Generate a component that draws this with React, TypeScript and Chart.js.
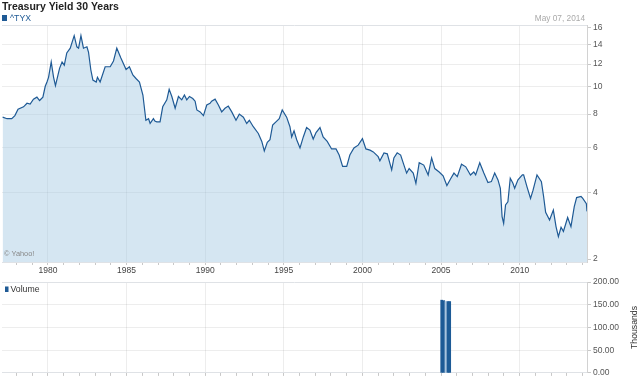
import React, { useEffect, useRef } from 'react';
import { Chart, LinearScale, registerables } from 'chart.js';

Chart.register(...registerables);

// ---------- data ----------
const TITLE = 'Treasury Yield 30 Years';
const SERIES = '^TYX';
const DATE_LABEL = 'May 07, 2014';
const COPYRIGHT = '© Yahoo!';
const VOLUME_LABEL = 'Volume';
const VOLUME_UNIT = 'Thousands';

const years = [
  1977.12, 1977.4, 1977.7, 1977.9, 1978.1, 1978.45, 1978.67, 1978.87, 1979.08, 1979.3,
  1979.47, 1979.68, 1979.83, 1979.94, 1980.04, 1980.21, 1980.36, 1980.48, 1980.74, 1980.9,
  1981.04, 1981.2, 1981.42, 1981.67, 1981.84, 1981.95, 1982.1, 1982.26, 1982.48, 1982.58,
  1982.73, 1982.86, 1983.07, 1983.15, 1983.32, 1983.64, 1983.96, 1984.17, 1984.38, 1984.64,
  1984.97, 1985.18, 1985.4, 1985.6, 1985.82, 1986.04, 1986.23, 1986.4, 1986.5, 1986.71,
  1986.8, 1986.92, 1987.13, 1987.3, 1987.56, 1987.71, 1987.88, 1988.09, 1988.3, 1988.51,
  1988.68, 1988.83, 1989.0, 1989.21, 1989.36, 1989.47, 1989.68, 1989.89, 1990.1, 1990.31,
  1990.41, 1990.63, 1990.84, 1991.05, 1991.26, 1991.47, 1991.69, 1991.96, 1992.17, 1992.43,
  1992.64, 1992.81, 1993.06, 1993.38, 1993.6, 1993.76, 1993.95, 1994.12, 1994.29, 1994.5,
  1994.71, 1994.9, 1995.18, 1995.39, 1995.5, 1995.65, 1995.82, 1996.03, 1996.24, 1996.45,
  1996.66, 1996.87, 1997.05, 1997.3, 1997.5, 1997.76, 1998.04, 1998.32, 1998.52, 1998.74,
  1999.0, 1999.2, 1999.46, 1999.73, 2000.0, 2000.22, 2000.48, 2000.69, 2001.0, 2001.11,
  2001.37, 2001.58, 2001.86, 2002.0, 2002.21, 2002.43, 2002.64, 2002.81, 2002.97, 2003.23,
  2003.4, 2003.61, 2003.9, 2004.18, 2004.4, 2004.6, 2004.88, 2005.13, 2005.37, 2005.6,
  2005.82, 2006.03, 2006.3, 2006.57, 2006.87, 2007.08, 2007.2, 2007.46, 2007.72, 2007.98,
  2008.2, 2008.41, 2008.62, 2008.77, 2008.88, 2008.98, 2009.1, 2009.25, 2009.4, 2009.57,
  2009.68, 2009.89, 2010.17, 2010.25, 2010.47, 2010.69, 2010.85, 2011.1, 2011.38, 2011.52,
  2011.65, 2011.9, 2012.14, 2012.31, 2012.46, 2012.63, 2012.78, 2013.05, 2013.26, 2013.47,
  2013.62, 2013.9, 2014.0, 2014.24, 2014.28,
];

const yields = [
  7.8, 7.7, 7.7, 7.9, 8.33, 8.5, 8.75, 8.7, 9.05, 9.2,
  8.95, 9.2, 10.05, 10.4, 10.8, 12.2, 10.8, 10.1, 11.6, 12.2,
  11.9, 13.1, 13.6, 15.0, 13.75, 13.6, 15.0, 13.6, 13.75, 13.2,
  11.45, 10.57, 10.4, 10.8, 10.4, 11.75, 11.75, 12.3, 13.6, 12.6,
  11.5, 11.75, 11.0, 10.7, 10.4, 9.36, 7.6, 7.7, 7.4, 7.7,
  7.55, 7.5, 7.5, 8.5, 9.0, 9.8, 9.25, 8.4, 9.25, 9.0,
  9.36, 9.0, 9.25, 9.1, 8.9, 8.28, 8.15, 7.9, 8.63, 8.75,
  8.9, 9.05, 8.63, 8.15, 8.4, 8.55, 8.15, 7.6, 8.0, 7.8,
  7.4, 7.6, 7.2, 6.8, 6.35, 5.85, 6.3, 6.44, 7.3, 7.5,
  7.7, 8.28, 7.8, 7.2, 6.6, 6.95, 6.44, 6.0, 6.6, 7.15,
  7.0, 6.48, 6.85, 7.15, 6.6, 6.35, 5.95, 5.95, 5.64, 5.1,
  5.1, 5.64, 6.0, 6.15, 6.5, 5.95, 5.89, 5.8, 5.56, 5.36,
  5.75, 5.7, 4.94, 5.5, 5.75, 5.64, 5.16, 4.8, 5.0, 4.8,
  4.37, 5.27, 5.16, 4.72, 5.5, 5.0, 4.85, 4.68, 4.28, 4.55,
  4.8, 4.65, 5.2, 5.08, 4.72, 4.85, 4.72, 5.27, 4.8, 4.4,
  4.44, 4.8, 4.51, 4.17, 3.17, 2.96, 3.56, 3.67, 4.58, 4.37,
  4.17, 4.51, 4.72, 4.72, 4.22, 3.79, 4.1, 4.72, 4.44, 3.86,
  3.31, 3.06, 3.38, 2.86, 2.57, 2.84, 2.72, 3.14, 2.86, 3.5,
  3.82, 3.86, 3.8, 3.6, 3.34,
];

const volumeYears = [2005.04, 2005.17, 2005.31, 2005.44, 2005.55];
const volumes = [160, 159, 157, 157, 157];
const volumeShade = ['dark', 'dark', 'light', 'dark', 'dark'];

const yieldTicks = [2, 4, 6, 8, 10, 12, 14, 16];
const volumeTicks = [0, 50, 100, 150, 200];
const yearTicks = [
  1978, 1979, 1980, 1981, 1982, 1983, 1984, 1985, 1986, 1987, 1988, 1989, 1990, 1991,
  1992, 1993, 1994, 1995, 1996, 1997, 1998, 1999, 2000, 2001, 2002, 2003, 2004, 2005,
  2006, 2007, 2008, 2009, 2010, 2011, 2012, 2013, 2014,
];

// axis ranges
const X_MIN = 1977.08;
const X_MAX = 2014.28;
const Y_MIN = 1.93;
const Y_MAX = 16.29;
const V_MIN = 0;
const V_MAX = 200;

// ---------- styles ----------
const FONT = '"Liberation Sans", Arial, sans-serif';
const LINE = '#1f5a95';
const FILL = 'rgba(150,192,222,0.4)';
const GRID = 'rgba(0,0,0,0.07)';
const TICK = '#c8c8c8';
const BORDER = '#dfe2e6';
const DARK_BAR = '#1d5b96';
const LIGHT_BAR = '#a8c4de';

// Yahoo style compressed-log scale
const SHIFT = 1.3;
class ShiftedLogScale extends LinearScale {
  static id = 'shiftedLog';
  getPixelForValue(value: any) {
    if (value === null || value === undefined || isNaN(value)) return NaN;
    const a = Math.log(this.min + SHIFT);
    const b = Math.log(this.max + SHIFT);
    return this.getPixelForDecimal((Math.log(value + SHIFT) - a) / (b - a));
  }
  getValueForPixel(pixel: number) {
    const a = Math.log(this.min + SHIFT);
    const b = Math.log(this.max + SHIFT);
    const d = this.getDecimalForPixel(pixel);
    return Math.exp(a + d * (b - a)) - SHIFT;
  }
}
Chart.register(ShiftedLogScale as any);

const mainDecor = {
  id: 'mainDecor',
  afterDraw(chart: any) {
    const { ctx, chartArea: a } = chart;
    ctx.save();
    ctx.strokeStyle = BORDER;
    ctx.lineWidth = 1;
    ctx.beginPath();
    ctx.moveTo(a.left, Math.round(a.top) + 0.5);
    ctx.lineTo(a.right, Math.round(a.top) + 0.5);
    ctx.stroke();

    ctx.textAlign = 'left';
    ctx.textBaseline = 'alphabetic';
    ctx.fillStyle = '#222';
    ctx.font = `bold 10.5px ${FONT}`;
    ctx.fillText(TITLE, 2, 10);

    ctx.fillStyle = LINE;
    ctx.fillRect(2, 15, 5, 6);
    ctx.textBaseline = 'middle';
    ctx.font = `8.7px ${FONT}`;
    ctx.fillText(SERIES, 10, 18.5);

    ctx.fillStyle = '#aaaaaa';
    ctx.textAlign = 'right';
    ctx.font = `8.3px ${FONT}`;
    ctx.fillText(DATE_LABEL, 585, 18.5);

    ctx.fillStyle = '#888';
    ctx.textAlign = 'left';
    ctx.font = `7.4px ${FONT}`;
    ctx.fillText(COPYRIGHT, 4, 254);
    ctx.restore();
  },
};

const volumeDecor = {
  id: 'volumeDecor',
  afterDraw(chart: any) {
    const { ctx, chartArea: a } = chart;
    ctx.save();
    ctx.strokeStyle = BORDER;
    ctx.lineWidth = 1;
    ctx.beginPath();
    ctx.moveTo(a.left, Math.round(a.top) + 0.5);
    ctx.lineTo(a.right, Math.round(a.top) + 0.5);
    ctx.stroke();

    ctx.fillStyle = LINE;
    ctx.fillRect(5, a.top + 4.5, 3.5, 5.5);
    ctx.fillStyle = '#333';
    ctx.textAlign = 'left';
    ctx.textBaseline = 'middle';
    ctx.font = `8.7px ${FONT}`;
    ctx.fillText(VOLUME_LABEL, 10.5, a.top + 7.5);

    ctx.translate(635, (a.top + a.bottom) / 2);
    ctx.rotate(-Math.PI / 2);
    ctx.textAlign = 'center';
    ctx.fillText(VOLUME_UNIT, 0, 0);
    ctx.restore();
  },
};

function yearGrid(ctx: any) {
  return ctx.tick && ctx.tick.value % 5 === 0 ? GRID : 'rgba(0,0,0,0)';
}

export default function App() {
  const mainRef = useRef<HTMLCanvasElement>(null);
  const volRef = useRef<HTMLCanvasElement>(null);

  useEffect(() => {
    const tickFont = { family: FONT, size: 8.5 };
    const main = new Chart(mainRef.current as HTMLCanvasElement, {
      type: 'line',
      data: {
        datasets: [
          {
            label: SERIES,
            data: years.map((x, i) => ({ x, y: yields[i] })),
            borderColor: LINE,
            borderWidth: 1.2,
            backgroundColor: FILL,
            fill: 'start',
            pointRadius: 0,
            tension: 0,
          },
        ],
      },
      options: {
        animation: false,
        responsive: false,
        maintainAspectRatio: false,
        layout: { padding: { left: 2, top: 25, right: 0, bottom: 0 } },
        plugins: { legend: { display: false }, tooltip: { enabled: false }, title: { display: false } },
        scales: {
          x: {
            type: 'linear',
            min: X_MIN,
            max: X_MAX,
            bounds: 'data',
            afterBuildTicks: (s: any) => {
              s.ticks = yearTicks.map((v) => ({ value: v }));
            },
            afterFit: (s: any) => {
              s.height = 18;
            },
            grid: { color: yearGrid, tickColor: TICK, tickLength: 3 },
            border: { display: true, color: BORDER },
            ticks: {
              autoSkip: false,
              maxRotation: 0,
              padding: 1,
              color: '#444',
              font: tickFont,
              callback: (v: any) => (Number(v) % 5 === 0 ? String(v) : ''),
            },
          },
          y: {
            type: 'shiftedLog' as any,
            position: 'right',
            min: Y_MIN,
            max: Y_MAX,
            bounds: 'data',
            afterBuildTicks: (s: any) => {
              s.ticks = yieldTicks.map((v) => ({ value: v }));
            },
            afterFit: (s: any) => {
              s.width = 53;
            },
            grid: {
              color: (c: any) => (c.tick && c.tick.value > 2 && c.tick.value < 16 ? GRID : 'rgba(0,0,0,0)'),
              tickColor: TICK,
              tickLength: 4,
            },
            border: { display: true, color: '#d2d2d2' },
            ticks: { padding: 2, color: '#555', font: tickFont, callback: (v: any) => String(v) },
          },
        },
      } as any,
      plugins: [mainDecor],
    });

    const vol = new Chart(volRef.current as HTMLCanvasElement, {
      type: 'bar',
      data: {
        datasets: [
          {
            label: VOLUME_LABEL,
            data: volumeYears.map((x, i) => ({ x, y: volumes[i] })),
            backgroundColor: volumeShade.map((s) => (s === 'dark' ? DARK_BAR : LIGHT_BAR)),
            barThickness: 2,
            borderWidth: 0,
          },
        ],
      },
      options: {
        animation: false,
        responsive: false,
        maintainAspectRatio: false,
        layout: { padding: { left: 2, top: 10, right: 0, bottom: 0 } },
        plugins: { legend: { display: false }, tooltip: { enabled: false } },
        scales: {
          x: {
            type: 'linear',
            min: X_MIN,
            max: X_MAX,
            offset: false,
            bounds: 'data',
            afterBuildTicks: (s: any) => {
              s.ticks = yearTicks.map((v) => ({ value: v }));
            },
            afterFit: (s: any) => {
              s.height = 6;
            },
            grid: { offset: false, color: yearGrid, tickColor: TICK, tickLength: 3 },
            border: { display: true, color: BORDER },
            ticks: { display: false },
          },
          y: {
            type: 'linear',
            position: 'right',
            min: V_MIN,
            max: V_MAX,
            afterBuildTicks: (s: any) => {
              s.ticks = volumeTicks.map((v) => ({ value: v }));
            },
            afterFit: (s: any) => {
              s.width = 53;
            },
            grid: {
              color: (c: any) => (c.tick && c.tick.value > 0 && c.tick.value < 200 ? GRID : 'rgba(0,0,0,0)'),
              tickColor: TICK,
              tickLength: 4,
            },
            border: { display: true, color: '#d2d2d2' },
            ticks: { padding: 2, color: '#555', font: tickFont, callback: (v: any) => Number(v).toFixed(2) },
          },
        },
      } as any,
      plugins: [volumeDecor],
    });

    return () => {
      main.destroy();
      vol.destroy();
    };
  }, []);

  return (
    <div style={{ position: 'absolute', left: 0, top: 0, width: 640, height: 380, background: '#fff' }}>
      <canvas
        ref={mainRef}
        width={640}
        height={280}
        style={{ position: 'absolute', left: 0, top: 0, width: 640, height: 280 }}
      />
      <canvas
        ref={volRef}
        width={640}
        height={108}
        style={{ position: 'absolute', left: 0, top: 272, width: 640, height: 108 }}
      />
    </div>
  );
}
